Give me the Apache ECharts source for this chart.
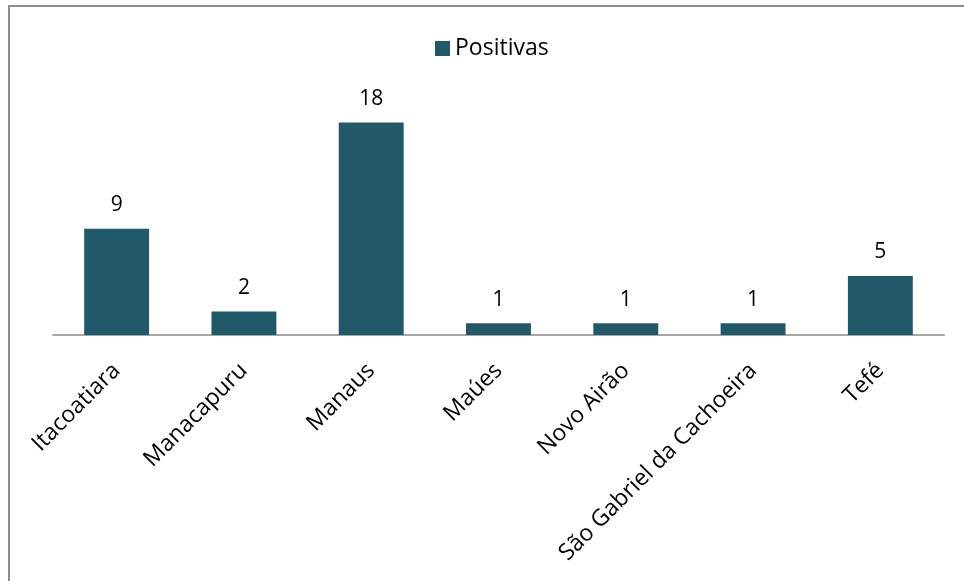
<!DOCTYPE html>
<html>
<head>
<meta charset="utf-8">
<script src="https://cdn.jsdelivr.net/npm/echarts@6/dist/echarts.min.js"></script>
<style>
html,body{margin:0;padding:0;background:#fff;}
#c{width:964px;height:581px;}
</style>
</head>
<body>
<div id="c"></div>
<script>
var categories = ["Itacoatiara", "Manacapuru", "Manaus", "Maúes", "Novo Airão", "São Gabriel da Cachoeira", "Tefé"];
var positivas = [9, 2, 18, 1, 1, 1, 5];
var seriesName = "Positivas";

var chart = echarts.init(document.getElementById('c'));
var font = "'Open Sans', 'Noto Sans', sans-serif";
chart.setOption({
  animation: false,
  backgroundColor: '#fff',
  graphic: [{
    type: 'rect',
    shape: {x: 9, y: 6, width: 1200, height: 1200},
    style: {fill: 'none', stroke: '#8c8c8c', lineWidth: 2},
    silent: true, z: 100
  }],
  legend: {
    data: [seriesName],
    top: 32,
    left: 430,
    icon: 'rect',
    itemWidth: 15,
    itemHeight: 15,
    itemGap: 7,
    textStyle: {fontFamily: font, fontSize: 23, color: '#000'}
  },
  grid: {left: 53, right: 20, top: 99, bottom: 246, containLabel: false},
  xAxis: {
    type: 'category',
    data: categories,
    axisLine: {lineStyle: {color: '#a6a6a6', width: 2}},
    axisTick: {show: false},
    axisLabel: {rotate: 45, interval: 0, margin: 32, fontFamily: font, fontSize: 23, color: '#000'}
  },
  yAxis: {
    type: 'value',
    min: 0, max: 20,
    show: false,
    splitLine: {show: false}
  },
  series: [{
    name: seriesName,
    type: 'bar',
    data: positivas,
    barWidth: '51%',
    itemStyle: {color: '#215968'},
    label: {show: true, position: 'top', distance: 13, fontFamily: font, fontSize: 21, color: '#000'}
  }]
});
</script>
</body>
</html>
